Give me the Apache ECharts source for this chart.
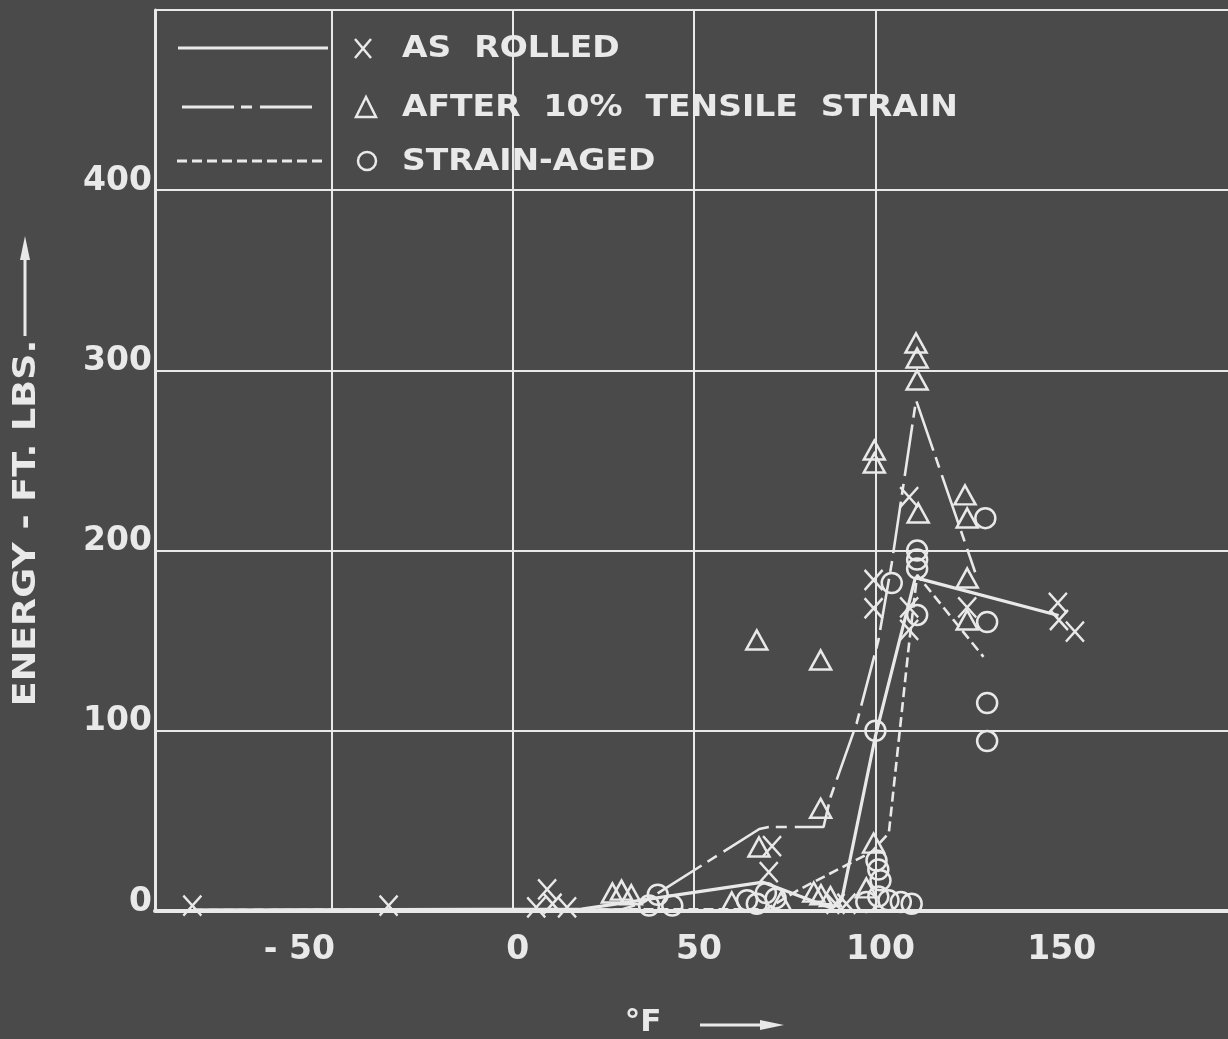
<!DOCTYPE html>
<html>
<head>
<meta charset="utf-8">
<script src="https://cdn.jsdelivr.net/npm/echarts@6/dist/echarts.min.js"></script>
<style>
  html, body { margin: 0; padding: 0; background: #4a4a4a; }
  #chart { width: 1228px; height: 1039px; }
</style>
</head>
<body>
<div id="chart"></div>
<script>
// Charpy impact energy versus test temperature for three plate conditions
const seriesNames = ['AS ROLLED', 'AFTER 10% TENSILE STRAIN', 'STRAIN-AGED'];
const xTickValues = [-50, 0, 50, 100, 150];
const yTickValues = [0, 100, 200, 300, 400];
const xRange = [-98.6, 197.2];
const yRange = [0, 500];
const xTitle = '°F';
const yTitle = 'ENERGY - FT. LBS.';

// individual specimens: [temperature °F, energy ft-lbs]
const asRolledPoints = [
  [-88.3, 3], [-34.2, 3], [6.5, 2], [9.5, 12], [11, 4], [15, 2],
  [70.6, 21.6], [71.5, 36], [89, 4], [92, 4],
  [99.5, 183.7], [99.5, 168], [109.3, 229.7], [109.3, 168.5], [109.3, 156],
  [125.3, 168.5], [150.3, 171], [150.6, 161.5], [155, 155]
];
const tensilePoints = [
  [27.5, 10], [30, 11.6], [32.7, 9], [60.4, 5], [67.9, 35.5], [74, 5],
  [67.3, 150.4], [84.9, 139.3], [84.9, 57], [83, 10.5], [85, 9], [87.6, 8],
  [97.5, 12.8], [99.5, 37.7], [99.7, 255.8], [99.7, 248.6],
  [111.2, 315.2], [111.5, 306.9], [111.5, 294.7], [111.8, 220.9],
  [124.7, 230.9], [125.3, 218.1], [125.3, 184.8], [125.3, 161.5]
];
const agedPoints = [
  [37.6, 3], [40, 9], [44, 3], [64.6, 6], [67.3, 4], [69.8, 10], [72.5, 7],
  [100.3, 28], [100.8, 23], [101.4, 17], [100.8, 8], [97.5, 5], [103.6, 6],
  [107, 5], [110, 4], [100, 100], [104.5, 182],
  [111.5, 200], [111.5, 195], [111.5, 190], [111.5, 164.3],
  [130.3, 218], [130.8, 160.4], [130.8, 115.4], [130.8, 94.3]
];

// faired transition curves drawn through each group
const asRolledCurve = [
  [-88, 0.5], [19, 1], [69, 16], [88, 1.5], [90.7, 6], [100, 97], [111, 185], [150.5, 164]
];
const tensileCurve = [
  [-88, 0.5], [30, 0.8], [35.7, 4.4], [68, 45.5], [70.6, 46.6], [85.7, 46.6],
  [87.6, 63], [94.8, 104], [100.8, 150], [104.5, 193], [111.2, 283.5], [127.5, 188]
];
const agedCurve = [
  [-88, 0.5], [70, 1], [78.8, 11.7], [98.9, 32.7], [103.7, 43.3],
  [109.3, 148.7], [111.5, 186.5], [129.8, 141]
];

const ink = '#e9e9e9';
const font = '"DejaVu Sans", "Liberation Sans", sans-serif';
const crossSymbol = 'path://M0,0L20,20M20,0L0,20';
const dashDot = [52, 7, 11, 8];
const dashed = [10, 5];

const chart = echarts.init(document.getElementById('chart'), null, { renderer: 'canvas' });

function markerSeries(name, data, symbol, size) {
  return {
    type: 'scatter', name, data, symbol, symbolSize: size, silent: true, z: 4,
    itemStyle: { color: 'transparent', borderColor: ink, borderWidth: 2.5, opacity: 1 }
  };
}
function curveSeries(name, data, dash, width) {
  return {
    type: 'line', name, data, showSymbol: false, symbol: 'none', silent: true, z: 3,
    lineStyle: { color: ink, width, type: dash }
  };
}

const legendRows = [
  { y: 48, dash: 'solid', x1: 178, x2: 328, text: 'AS  ROLLED' },
  { y: 107, dash: dashDot, x1: 182, x2: 318, text: 'AFTER  10%  TENSILE  STRAIN' },
  { y: 161, dash: dashed, x1: 177, x2: 326, text: seriesNames[2] }
];
const legendGraphics = [];
legendRows.forEach(row => {
  legendGraphics.push({
    type: 'line', shape: { x1: row.x1, y1: row.y, x2: row.x2, y2: row.y },
    style: { stroke: ink, lineWidth: 3, lineDash: row.dash === 'solid' ? null : row.dash }
  });
  legendGraphics.push({
    type: 'text', x: 402, y: row.y + 1, scaleX: 1.1,
    style: { text: row.text, fill: ink, font: 'bold 30px ' + font, align: 'left', verticalAlign: 'middle' }
  });
});
legendGraphics.push(
  { type: 'polyline', shape: { points: [[355, 39], [371, 58]] }, style: { stroke: ink, lineWidth: 2.5, fill: null } },
  { type: 'polyline', shape: { points: [[371, 39], [355, 58]] }, style: { stroke: ink, lineWidth: 2.5, fill: null } },
  { type: 'polygon', shape: { points: [[366, 97], [356, 117], [376, 117]] }, style: { stroke: ink, lineWidth: 2.5, fill: null } },
  { type: 'circle', shape: { cx: 367, cy: 161, r: 9 }, style: { stroke: ink, lineWidth: 2.5, fill: null } }
);

// axis titles with their arrows
const titleGraphics = [
  {
    type: 'text', x: 27, y: 523, rotation: Math.PI / 2, scaleX: 1.14,
    style: { text: yTitle, fill: ink, font: 'bold 32px ' + font, align: 'center', verticalAlign: 'middle' }
  },
  { type: 'line', shape: { x1: 25, y1: 336, x2: 25, y2: 250 }, style: { stroke: ink, lineWidth: 3 } },
  { type: 'polygon', shape: { points: [[25, 236], [20, 260], [30, 260]] }, style: { fill: ink } },
  {
    type: 'text', x: 643, y: 1023,
    style: { text: xTitle, fill: ink, font: 'bold 31px ' + font, align: 'center', verticalAlign: 'middle' }
  },
  { type: 'line', shape: { x1: 700, y1: 1025, x2: 770, y2: 1025 }, style: { stroke: ink, lineWidth: 3 } },
  { type: 'polygon', shape: { points: [[784, 1025], [760, 1020], [760, 1030]] }, style: { fill: ink } }
];

const option = {
  backgroundColor: '#4a4a4a',
  animation: false,
  grid: { left: 155, right: 0, top: 10, bottom: 128 },
  xAxis: {
    type: 'value', min: xRange[0], max: xRange[1],
    axisLine: { show: true, onZero: false, lineStyle: { color: ink, width: 4 } },
    axisTick: { show: false, customValues: xTickValues },
    splitLine: { show: true, showMaxLine: false, lineStyle: { color: ink, width: 2 } },
    axisLabel: {
      customValues: xTickValues, color: ink, fontFamily: font, fontWeight: 'bold', fontSize: 33, margin: 23,
      formatter: v => v < 0 ? '{neg|- ' + Math.abs(v) + '}' : '{pos|' + v + '}',
      rich: {
        neg: { fontFamily: font, fontWeight: 'bold', fontSize: 33, color: ink, padding: [0, 64, 0, 0] },
        pos: { fontFamily: font, fontWeight: 'bold', fontSize: 33, color: ink, padding: [0, 0, 0, 10] }
      }
    }
  },
  yAxis: {
    type: 'value', min: yRange[0], max: yRange[1], interval: 100,
    axisLine: { show: true, onZero: false, lineStyle: { color: ink, width: 3 } },
    axisTick: { show: false },
    splitLine: { show: true, lineStyle: { color: ink, width: 2 } },
    axisLabel: {
      customValues: yTickValues, color: ink, fontFamily: font, fontWeight: 'bold', fontSize: 33, margin: 3,
      verticalAlign: 'bottom', lineHeight: 18
    }
  },
  series: [
    curveSeries(seriesNames[0], asRolledCurve, 'solid', 3.2),
    curveSeries(seriesNames[1], tensileCurve, dashDot, 2.6),
    curveSeries(seriesNames[2], agedCurve, dashed, 2.6),
    markerSeries(seriesNames[0], asRolledPoints, crossSymbol, [18, 20]),
    markerSeries(seriesNames[1], tensilePoints, 'triangle', [21, 19]),
    markerSeries(seriesNames[2], agedPoints, 'circle', 20)
  ],
  graphic: legendGraphics.concat(titleGraphics)
};

chart.setOption(option);
</script>
</body>
</html>
